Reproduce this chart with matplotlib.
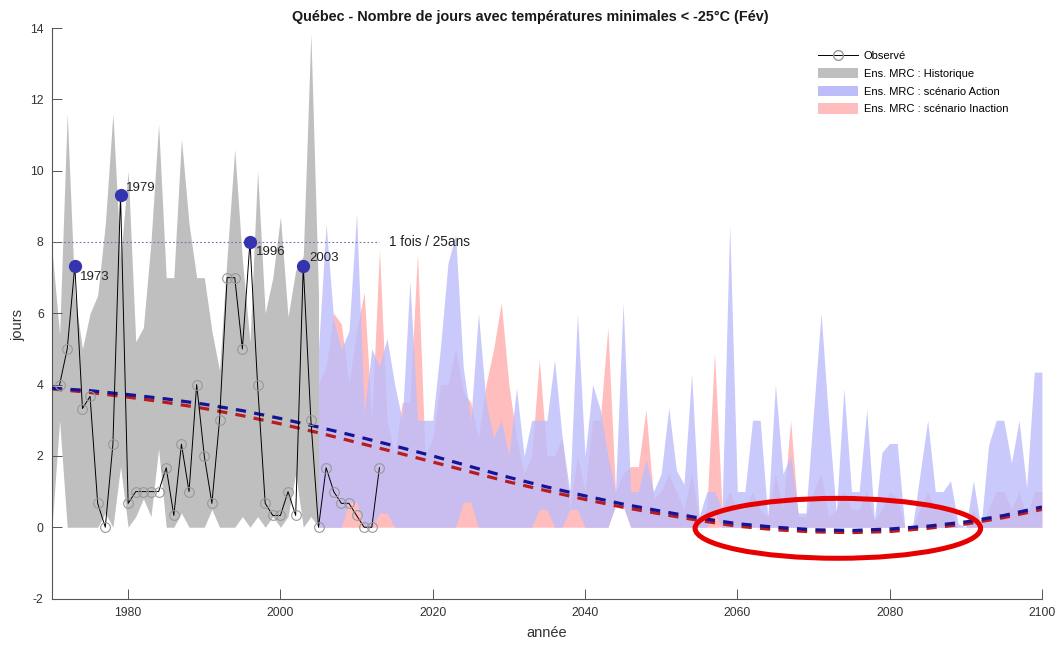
import numpy as np
import matplotlib
matplotlib.use("Agg")
import matplotlib.pyplot as plt
from matplotlib.patches import Ellipse, Patch
from matplotlib.lines import Line2D

plt.rcParams['font.family'] = ['Liberation Sans', 'DejaVu Sans']
plt.rcParams['axes.unicode_minus'] = False

# observed (mean number of days)
obs_years = list(range(1971, 2014))
obs_values = [4, 5, 7.33, 3.33, 3.67, 0.67, 0, 2.33, 9.33, 0.67,
              1, 1, 1, 1, 1.67, 0.33, 2.33, 1, 4, 2,
              0.67, 3, 7, 7, 5, 8, 4, 0.67, 0.33, 0.33,
              1, 0.33, 7.33, 3, 0, 1.67, 1, 0.67, 0.67, 0.33,
              0, 0, 1.67]

# 25-year events
event_years = [1973, 1979, 1996, 2003]
event_values = [7.33, 9.33, 8, 7.33]
event_label_dy = [-8, 5, -7, 6]
return_level = 8
return_label = "1 fois / 25ans"

# historical ensemble envelope
hist_years = list(range(1970, 2006))
hist_high = [7.8, 5.4, 11.6, 6.5, 5.0, 6.0, 6.5, 8.5, 11.6, 7.5,
             10.0, 5.2, 5.6, 8.0, 11.3, 7.0, 7.0, 10.9, 8.5, 7.0,
             7.0, 5.5, 4.4, 7.6, 10.6, 7.5, 5.2, 10.0, 6.0, 7.0,
             8.7, 5.9, 7.2, 7.6, 13.85, 6.5]
hist_low = [0, 3.0, 0, 0, 0, 0, 0, 0.4, 0, 1.7,
            0, 0.3, 0.8, 0.3, 2.2, 0, 0, 0.4, 0, 0,
            0, 0.5, 0, 0, 0, 0.3, 0, 0.3, 0, 0.3,
            0, 0.3, 1.5, 0, 0.3, 0]

# scenario envelopes
proj_years = list(range(2005, 2101))
action_high = [5.0, 8.5, 5.8, 5.0, 5.5, 8.8, 3.2, 5.0, 4.5, 5.3,
               4.0, 3.0, 6.9, 3.0, 3.0, 3.0, 5.0, 7.4, 8.2, 4.5,
               3.0, 6.0, 3.5, 2.5, 3.0, 2.0, 3.9, 2.0, 3.0, 3.0,
               3.0, 4.7, 2.5, 1.0, 6.0, 2.0, 4.0, 3.3, 2.0, 1.0,
               6.3, 1.0, 1.0, 1.9, 1.0, 1.5, 3.35, 1.6, 1.2, 4.3,
               0.3, 1.0, 1.0, 0.5, 8.5, 1.0, 1.0, 3.0, 3.0, 0.3,
               4.0, 1.5, 2.0, 0.4, 0.4, 3.2, 6.0, 3.0, 0.4, 3.9,
               1.0, 1.0, 3.3, 0.2, 2.1, 2.35, 2.35, 0, 0, 1.5,
               3.0, 1.0, 1.0, 1.3, 0.1, 0, 1.3, 0, 2.3, 3.0,
               3.0, 1.8, 3.0, 1.1, 4.35, 4.35]
action_low = [0, 0, 0, 0, 0.7, 0.7, 0, 0, 0.4, 0.4,
              0, 0, 0, 0, 0, 0, 0, 0, 0, 0.7,
              0.7, 0, 0, 0, 0, 0, 0, 0, 0, 0.5,
              0.5, 0, 0, 0.5, 0.5, 0, 0, 0, 0, 0.6,
              0.6, 0, 0, 0, 0, 0, 0, 0, 0, 0,
              0, 0, 0.4, 0, 0, 0, 0, 0, 0, 0,
              0, 0, 0, 0, 0, 0, 0, 0, 0, 0,
              0, 0, 0, 0, 0, 0, 0, 0, 0, 0,
              0, 0, 0, 0, 0, 0, 0, 0, 0, 0,
              0, 0, 0, 0, 0, 0]
inaction_high = [4.0, 4.5, 6.0, 5.7, 4.0, 5.5, 6.6, 3.0, 7.8, 3.0,
                 2.0, 3.5, 3.5, 7.7, 2.0, 2.5, 4.0, 4.0, 5.0, 3.8,
                 3.5, 2.5, 4.0, 5.0, 6.3, 4.0, 2.5, 1.5, 2.0, 4.7,
                 2.0, 2.0, 2.5, 0.5, 2.0, 1.0, 3.0, 3.0, 5.6, 1.0,
                 1.5, 1.7, 1.7, 3.3, 0.8, 1.0, 1.5, 1.0, 0.5, 1.5,
                 0.2, 0.5, 4.9, 0.5, 1.0, 0.5, 0.5, 1.0, 0.5, 0.3,
                 1.5, 0.5, 3.0, 0.3, 0.3, 1.0, 1.5, 0.3, 0.5, 1.0,
                 0.5, 0.5, 1.0, 0.2, 0.5, 1.0, 0.8, 0, 0, 0.5,
                 1.0, 0.5, 0.5, 0.5, 0, 0, 0.5, 0, 0.5, 1.0,
                 1.0, 0.5, 1.0, 0.3, 1.0, 1.0]
inaction_low = [0] * 39 + [0.6, 0.6] + [0] * 55

# ensemble trends, read every 5 years
trend_years = list(range(1970, 2101, 5))
trend_action = [3.90, 3.83, 3.72, 3.60, 3.45, 3.27, 3.05, 2.81, 2.55, 2.28,
                2.00, 1.70, 1.40, 1.13, 0.88, 0.65, 0.45, 0.26, 0.10, 0.00,
                -0.07, -0.09, -0.05, 0.03, 0.15, 0.33, 0.57]
trend_inaction = [3.88, 3.78, 3.65, 3.50, 3.33, 3.13, 2.90, 2.65, 2.38, 2.11,
                  1.83, 1.55, 1.27, 1.02, 0.78, 0.56, 0.37, 0.19, 0.03, -0.07,
                  -0.13, -0.15, -0.12, -0.03, 0.09, 0.27, 0.50]

# highlighted period (red ellipse)
ellipse_center = (2073.2, -0.03)
ellipse_size = (37.5, 1.68)

fig = plt.figure(figsize=(10.61, 6.45), dpi=100)
ax = fig.add_axes([0.049, 0.072, 0.933, 0.8845])

ax.fill_between(hist_years, hist_low, hist_high, color="#bfbfbf", lw=0, zorder=1)
ax.fill_between(proj_years, inaction_low, inaction_high, color="#ffbdbd", lw=0, zorder=1.1)
ax.fill_between(proj_years, action_low, action_high, color="#bcbcfb", alpha=0.8, lw=0, zorder=1.2)

ax.plot([1970, 2013], [return_level, return_level], color="#7070a8", lw=0.8,
        ls=(0, (1.5, 2)), zorder=2)
ax.text(2014.3, return_level, return_label, fontsize=9.8, color="#222222",
        va="center", ha="left")

ax.plot(trend_years, trend_inaction, color="#b81c1c", lw=2.3, dashes=(3.2, 2.6), zorder=3)
ax.plot(trend_years, trend_action, color="#141496", lw=2.3, dashes=(3.2, 2.6), zorder=3.1)

ax.plot(obs_years, obs_values, color="black", lw=0.7, marker="o", ms=7,
        mfc="none", mec="#999999", mew=0.8, zorder=4)
ax.plot(event_years, event_values, ls="none", marker="o", ms=8.5,
        color="#3434b0", zorder=5)
for yr, val, dy in zip(event_years, event_values, event_label_dy):
    ax.annotate(str(yr), (yr, val), xytext=(4, dy), textcoords="offset points",
                fontsize=9.5, color="#222222", va="center", ha="left", zorder=6)

ax.add_patch(Ellipse(ellipse_center, ellipse_size[0], ellipse_size[1],
                     fill=False, ec="#e60000", lw=3.6, zorder=7))

ax.set_xlim(1970, 2100)
ax.set_ylim(-2, 14)
ax.set_xticks(range(1980, 2101, 20))
ax.set_yticks(range(-2, 15, 2))
ax.spines["top"].set_visible(False)
ax.spines["right"].set_visible(False)
for s in ("left", "bottom"):
    ax.spines[s].set_color("#555555")
    ax.spines[s].set_linewidth(0.8)
ax.tick_params(direction="in", length=7, width=0.7, color="#555555",
               labelsize=8.8, labelcolor="#333333", pad=6)
ax.set_facecolor("none")

fig.text(530 / 1061, 1 - 17 / 645,
         "Québec - Nombre de jours avec températures minimales < -25°C (Fév)",
         ha="center", va="center", fontsize=10.4, fontweight="bold", color="#1a1a1a")
fig.text(18 / 1061, 1 - 325 / 645, "jours", rotation=90, ha="center", va="center",
         fontsize=10.5, color="#333333")
fig.text(547 / 1061, 1 - 633 / 645, "année", ha="center", va="center",
         fontsize=10.5, color="#333333")

handles = [
    Line2D([], [], color="black", lw=0.7, marker="o", ms=7, mfc="none", mec="#999999"),
    Patch(color="#bfbfbf", lw=0),
    Patch(color="#bcbcfb", lw=0),
    Patch(color="#ffbdbd", lw=0),
]
labels = ["Observé", "Ens. MRC : Historique", "Ens. MRC : scénario Action",
          "Ens. MRC : scénario Inaction"]
fig.legend(handles, labels, loc="upper left", bbox_to_anchor=(818 / 1061, 1 - 50 / 645),
           frameon=False, fontsize=8, handlelength=3.6, handleheight=1.1,
           handletextpad=0.5, labelspacing=0.6, borderpad=0, borderaxespad=0)

fig.savefig("out.png", dpi=100)
